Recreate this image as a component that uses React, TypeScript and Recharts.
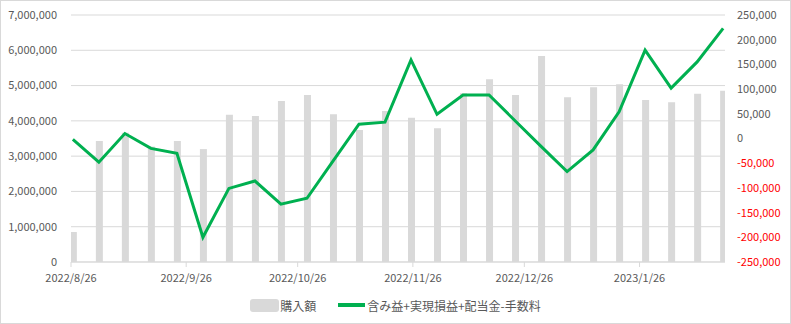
import React from 'react';
import { ComposedChart, Bar, Line, XAxis, YAxis, CartesianGrid, Legend } from 'recharts';

const dates = [
  '2022/8/26', '2022/9/2', '2022/9/9', '2022/9/16', '2022/9/23', '2022/9/30',
  '2022/10/7', '2022/10/14', '2022/10/21', '2022/10/28', '2022/11/4', '2022/11/11',
  '2022/11/18', '2022/11/25', '2022/12/2', '2022/12/9', '2022/12/16', '2022/12/23',
  '2022/12/30', '2023/1/6', '2023/1/13', '2023/1/20', '2023/1/27', '2023/2/3',
  '2023/2/10', '2023/2/17',
];

const purchase = [
  850000, 3430000, 3660000, 3270000, 3430000, 3200000,
  4170000, 4140000, 4560000, 4730000, 4190000, 3740000,
  4280000, 4090000, 3790000, 4780000, 5180000, 4730000,
  5840000, 4670000, 4950000, 5040000, 4590000, 4530000,
  4770000, 4850000,
];

const profit = [
  -2000, -48000, 10000, -20000, -30000, -200000,
  -101000, -86000, -133000, -121000, -46000, 29000,
  33000, 159000, 49000, 88000, 88000, 36000,
  -16000, -67000, -23000, 54000, 179000, 102000,
  155000, 223000,
];

const tickDates = ['2022/8/26', '2022/9/26', '2022/10/26', '2022/11/26', '2022/12/26', '2023/1/26'];
const leftTicks = [0, 1000000, 2000000, 3000000, 4000000, 5000000, 6000000, 7000000];
const rightTicks = [-250000, -200000, -150000, -100000, -50000, 0, 50000, 100000, 150000, 200000, 250000];

const SERIES_BAR = '購入額';
const SERIES_LINE = '含み益+実現損益+配当金-手数料';

const DAY = 86400000;
const toDay = (s: string) => {
  const [y, m, d] = s.split('/').map(Number);
  return Date.UTC(y, m - 1, d) / DAY;
};
const fromDay = (n: number) => {
  const dt = new Date(Math.round(n) * DAY);
  return `${dt.getUTCFullYear()}/${dt.getUTCMonth() + 1}/${dt.getUTCDate()}`;
};
const fmt = (v: number) => v.toLocaleString('en-US');

const data = dates.map((d, i) => ({
  x: toDay(d) + 0.5,
  purchase: purchase[i],
  profit: profit[i],
}));
const xDomain = [toDay(dates[0]), toDay(dates[dates.length - 1]) + 1];
const xTicks = tickDates.map(toDay);

const GRAY = '#595959';

const RightTick = (props: any) => {
  const { x, y, payload } = props;
  const v = payload.value as number;
  return (
    <text x={x} y={y} dy="0.355em" textAnchor="start" fontSize={11} fill={v < 0 ? '#ff0000' : GRAY}>
      {fmt(v)}
    </text>
  );
};

const renderLegend = () => (
  <div style={{ height: 20, display: 'flex', justifyContent: 'center', alignItems: 'center', fontSize: 12, color: GRAY }}>
    <span style={{ display: 'inline-block', width: 29, height: 13, background: '#d9d9d9', borderRadius: 3, marginRight: 1 }} />
    <span>{SERIES_BAR}</span>
    <span style={{ display: 'inline-block', width: 27, height: 4, background: '#00b050', marginLeft: 22, marginRight: 2 }} />
    <span>{SERIES_LINE}</span>
  </div>
);

export default function App() {
  return (
    <div
      style={{
        position: 'absolute',
        left: 0,
        top: 0,
        width: 791,
        height: 324,
        boxShadow: 'inset 0 0 0 1px #d9d9d9',
        fontFamily: "'Noto Sans CJK JP', 'Liberation Sans', sans-serif",
        background: '#fff',
      }}
    >
      <ComposedChart width={791} height={324} data={data} margin={{ top: 15, right: 0, left: 0, bottom: 9 }}>
        <CartesianGrid yAxisId="left" vertical={false} stroke="#d9d9d9" />
        <XAxis
          type="number"
          dataKey="x"
          domain={xDomain}
          ticks={xTicks}
          interval={0}
          allowDataOverflow
          tickFormatter={fromDay}
          axisLine={{ stroke: '#d9d9d9' }}
          tickLine={{ stroke: '#d9d9d9' }}
          tickSize={5}
          tickMargin={7}
          tick={{ fill: GRAY, fontSize: 11 }}
          height={33}
        />
        <YAxis
          yAxisId="left"
          domain={[0, 7000000]}
          ticks={leftTicks}
          interval={0}
          tickFormatter={fmt}
          axisLine={false}
          tickLine={false}
          tickSize={6}
          tickMargin={8}
          tick={{ fill: GRAY, fontSize: 11 }}
          width={71}
        />
        <YAxis
          yAxisId="right"
          orientation="right"
          domain={[-250000, 250000]}
          ticks={rightTicks}
          interval={0}
          axisLine={false}
          tickLine={false}
          tickSize={6}
          tickMargin={6}
          tick={<RightTick />}
          width={66}
        />
        <Legend verticalAlign="bottom" align="center" height={20} content={renderLegend} />
        <Bar yAxisId="left" dataKey="purchase" name={SERIES_BAR} fill="#d9d9d9" barSize={7} isAnimationActive={false} />
        <Line
          yAxisId="right"
          dataKey="profit"
          name={SERIES_LINE}
          type="linear"
          stroke="#00b050"
          strokeWidth={3}
          dot={false}
          isAnimationActive={false}
        />
      </ComposedChart>
    </div>
  );
}
